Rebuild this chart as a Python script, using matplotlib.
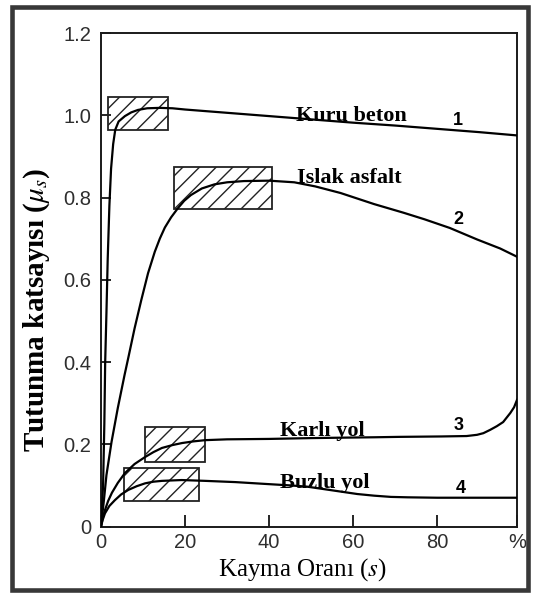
import matplotlib
matplotlib.use("Agg")
import matplotlib.pyplot as plt
from matplotlib.patches import Rectangle

# okunan degerler
x_kuru = [0, 0.5, 0.8, 1.0, 1.3, 1.6, 2.0, 2.4, 2.9, 3.4, 4.2, 5.7, 7.2, 8.8, 11, 14, 17, 20, 30, 40, 50, 60, 70, 80, 90, 99]
y_kuru = [0, 0.10, 0.25, 0.40, 0.52, 0.65, 0.78, 0.87, 0.93, 0.965, 0.985, 0.998, 1.007, 1.013, 1.017, 1.018, 1.017, 1.014,
          1.006, 0.998, 0.990, 0.982, 0.975, 0.967, 0.959, 0.951]

x_islak = [0, 0.7, 1.3, 2.5, 4.0, 5.6, 6.6, 8.0, 9.6, 11.2, 12.8, 14.0, 15.2, 16.7, 18.3, 19.8, 21.4, 24, 27, 30, 34,
           40, 46, 51, 57, 65, 72, 77, 83, 89.5, 95, 99]
y_islak = [0, 0.064, 0.125, 0.205, 0.288, 0.368, 0.415, 0.482, 0.551, 0.616, 0.668, 0.700, 0.727, 0.752, 0.774, 0.792,
           0.806, 0.822, 0.832, 0.837, 0.840, 0.841, 0.837, 0.827, 0.811, 0.784, 0.763, 0.747, 0.726, 0.698, 0.676, 0.656]

x_karli = [0, 0.4, 0.95, 1.7, 2.6, 4, 5.7, 8, 10.5, 12.5, 14.5, 17, 19.3, 22, 24.8, 30, 40, 50, 57, 65, 71, 81, 87,
           89.5, 91, 92.6, 94.2, 95.7, 97.4, 98.3, 99]
y_karli = [0, 0.02, 0.04, 0.062, 0.082, 0.106, 0.13, 0.152, 0.169, 0.181, 0.191, 0.198, 0.203, 0.207, 0.21, 0.212,
           0.213, 0.215, 0.216, 0.217, 0.218, 0.219, 0.220, 0.223, 0.227, 0.235, 0.244, 0.254, 0.276, 0.29, 0.308]

x_buzlu = [0, 0.4, 0.95, 2, 3.3, 4.8, 6.5, 8.5, 10.5, 12.5, 14.5, 19.2, 24.8, 32, 40, 45, 49, 53, 57, 61, 65, 69, 73,
           80, 90, 99]
y_buzlu = [0, 0.016, 0.032, 0.05, 0.064, 0.078, 0.089, 0.098, 0.105, 0.109, 0.111, 0.113, 0.111, 0.108, 0.103, 0.1,
           0.097, 0.091, 0.085, 0.079, 0.075, 0.072, 0.071, 0.070, 0.070, 0.070]

# taralı kutular: x0, x1, y0, y1
kutular = [(1.6, 15.9, 0.963, 1.045),
           (17.3, 40.7, 0.773, 0.873),
           (10.5, 24.8, 0.158, 0.243),
           (5.5, 23.3, 0.062, 0.142)]

xticks = [0, 20, 40, 60, 80, 99]
xlabels = ["0", "20", "40", "60", "80", "%"]
yticks = [0, 0.2, 0.4, 0.6, 0.8, 1.0, 1.2]
ylabels = ["0", "0.2", "0.4", "0.6", "0.8", "1.0", "1.2"]

plt.rcParams["mathtext.fontset"] = "stix"
plt.rcParams["hatch.linewidth"] = 1.0

fig = plt.figure(figsize=(5.34, 5.95), dpi=100)
ax = fig.add_axes([0.1891, 0.1151, 0.7791, 0.8294])

for xs, ys in [(x_kuru, y_kuru), (x_islak, y_islak), (x_karli, y_karli), (x_buzlu, y_buzlu)]:
    ax.plot(xs, ys, color="black", lw=1.6, zorder=3, solid_joinstyle="round")

for x0, x1, y0, y1 in kutular:
    ax.add_patch(Rectangle((x0, y0), x1 - x0, y1 - y0, fill=False, hatch="//",
                           edgecolor="#222222", lw=1.3, zorder=2))

ax.set_xlim(0, 99)
ax.set_ylim(0, 1.2)
ax.set_xticks(xticks)
ax.set_xticklabels(xlabels)
ax.set_yticks(yticks)
ax.set_yticklabels(ylabels)
ax.tick_params(axis="x", direction="in", length=9, width=1.2, pad=5,
               labelsize=14.5, labelcolor="#2e2e2e")
ax.tick_params(axis="y", direction="in", length=7, width=1.2, pad=7,
               labelsize=14.5, labelcolor="#2e2e2e")
for t in ax.get_xticklabels() + ax.get_yticklabels():
    t.set_family("Liberation Sans")
for s in ax.spines.values():
    s.set_linewidth(1.4)
    s.set_color("#1a1a1a")

serif = dict(family="Liberation Serif", weight="bold", fontsize=16)
ax.text(46.3, 0.985, "Kuru beton", **serif)
ax.text(46.7, 0.835, "Islak asfalt", **serif)
ax.text(42.6, 0.220, "Karlı yol", **serif)
ax.text(42.6, 0.093, "Buzlu yol", **serif)

num = dict(family="Liberation Sans", weight="bold", fontsize=13, ha="center")
ax.text(85, 0.977, "1", **num)
ax.text(85, 0.736, "2", **num)
ax.text(85, 0.235, "3", **num)
ax.text(85.5, 0.081, "4", **num)

fig.text(0.5665, 0.042, "Kayma Oranı ($s$)", family="Liberation Serif",
         fontsize=18, ha="center", va="center")
fig.text(0.0687, 0.479, r"Tutunma katsayısı ($\mu_s$)", family="Liberation Serif",
         weight="bold", fontsize=21, rotation=90, ha="center", va="center")

# dis cerceve
fig.patches.append(Rectangle((11.5 / 534, 1 - 589.5 / 595), (528 - 11.5) / 534, (589.5 - 7) / 595,
                             transform=fig.transFigure, fill=False, lw=3.3, ec="#383838"))

fig.savefig("out.png", dpi=100)
